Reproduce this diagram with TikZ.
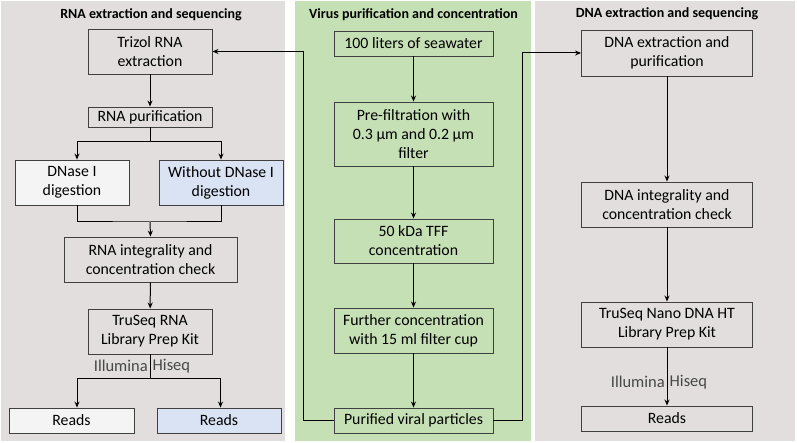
\documentclass[tikz,border=0pt]{standalone}
\usepackage{fontspec}
\setmainfont{Carlito}
\usepackage{tikz}
\usetikzlibrary{arrows.meta}

\definecolor{panelgray}{HTML}{E2DEDE}
\definecolor{panelgreen}{HTML}{C6E0B5}
\definecolor{boxblue}{HTML}{DAE3F3}
\definecolor{boxwhite}{HTML}{F4F4F4}

\tikzset{
  box/.style={draw=black!75, line width=0.9pt, align=center, inner sep=0pt,
    font=\fontsize{15.8}{19}\selectfont},
  paneltitle/.style={font=\fontsize{14}{16}\selectfont\bfseries},
  seqlabel/.style={font=\fontsize{16.5}{18}\selectfont, text=black!72, inner sep=0pt},
  flow/.style={line width=1pt, -{Stealth[length=6pt,width=5pt]}},
  link/.style={line width=1pt},
}

\begin{document}
\begin{tikzpicture}[x=1pt,y=-1pt]
    \useasboundingbox (0,0) rectangle (797,443);
    % panels
    \fill[panelgray]  (1,1)   rectangle (285,441);
    \fill[panelgreen] (295,1) rectangle (531,441);
    \fill[panelgray]  (535,1) rectangle (795,441);
    \node[paneltitle] (trna) at (151,15)   {RNA extraction and sequencing};
    \node[paneltitle] (tvir) at (413.5,15) {Virus purification and concentration};
    \node[paneltitle] (tdna) at (667,14)   {DNA extraction and sequencing};

    % virus column
    \node[box, minimum width=159, minimum height=25] (sea)      at (413.5,43.5) {100 liters of seawater};
    \node[box, minimum width=159, minimum height=64] (prefilt)  at (413.5,134)  {Pre-filtration with\\0.3 μm and 0.2 μm\\filter};
    \node[box, minimum width=159, minimum height=44] (tff)      at (413.5,241)  {50 kDa TFF\\concentration};
    \node[box, minimum width=159, minimum height=45] (further)  at (413.5,330.5){Further concentration\\with 15 ml filter cup};
    \node[box, minimum width=159, minimum height=25] (purified) at (413.5,420.5){Purified viral particles};

    % RNA column
    \node[box, minimum width=124, minimum height=45] (trizol)    at (150,51.5)  {Trizol RNA\\extraction};
    \node[box, minimum width=124, minimum height=20] (rnapur)    at (150,117)   {RNA purification};
    \node[box, minimum width=114, minimum height=45, fill=boxwhite] (dnase)   at (72,182.5)  {DNase I\\digestion};
    \node[box, minimum width=124, minimum height=45, fill=boxblue]  (nodnase) at (221,182.5) {Without DNase I\\digestion};
    \node[box, minimum width=173, minimum height=45] (rnacheck)  at (150.5,259.5) {RNA integrality and\\concentration check};
    \node[box, minimum width=124, minimum height=45] (truseqrna) at (150,331.5) {TruSeq RNA\\Library Prep Kit};
    \node[box, minimum width=125, minimum height=25, fill=boxwhite] (readsa) at (71.5,420.5) {Reads};
    \node[box, minimum width=124, minimum height=25, fill=boxblue]  (readsb) at (219,420.5)  {Reads};
    \node[seqlabel, anchor=east] (illrnaa) at (148,366) {Illumina};
    \node[seqlabel, anchor=west] (illrnab) at (152.5,366) {Hiseq};

    % DNA column
    \node[box, minimum width=171, minimum height=46] (dnaext)    at (667,53)    {DNA extraction and\\purification};
    \node[box, minimum width=171, minimum height=45] (dnacheck)  at (667,204.5) {DNA integrality and\\concentration check};
    \node[box, minimum width=171, minimum height=45] (truseqdna) at (667,324.5) {TruSeq Nano DNA HT\\Library Prep Kit};
    \node[box, minimum width=171, minimum height=25] (readsc)    at (667,418.5) {Reads};
    \node[seqlabel, anchor=east] (illdnaa) at (665,382) {Illumina};
    \node[seqlabel, anchor=west] (illdnab) at (669.5,382) {Hiseq};

    \coordinate (split)  at (150,142);
    \coordinate (merge)  at (150,222);
    \coordinate (splitb) at (150,378);

    % connectors
    \draw[flow] (sea) -- (prefilt);
    \draw[flow] (prefilt) -- (tff);
    \draw[flow] (tff) -- (further);
    \draw[flow] (further) -- (purified);
    \draw[flow] (purified.west) -- ++(-30,0) |- (trizol.east);
    \draw[flow] (purified.east) -- ++(29,0) |- (dnaext.west);

    \draw[flow] (trizol) -- (rnapur);
    \draw[link] (rnapur.south) -- (split);
    \draw[flow] (split) -| ([xshift=5pt]dnase.north);
    \draw[flow] (split) -| (nodnase.north);
    \draw[link] ([xshift=5pt]dnase.south) |- (merge) -| (nodnase.south);
    \draw[flow] (merge) -- (rnacheck.north);
    \draw[flow] (rnacheck) -- (truseqrna);
    \draw[link] (truseqrna.south) -- (splitb);
    \draw[flow] (splitb) -| ([xshift=5.5pt]readsa.north);
    \draw[flow] (splitb) -| ([xshift=1.5pt]readsb.north);

    \draw[flow] (dnaext) -- (dnacheck);
    \draw[flow] (dnacheck) -- (truseqdna);
    \draw[flow] (truseqdna) -- (readsc);
\end{tikzpicture}
\end{document}
